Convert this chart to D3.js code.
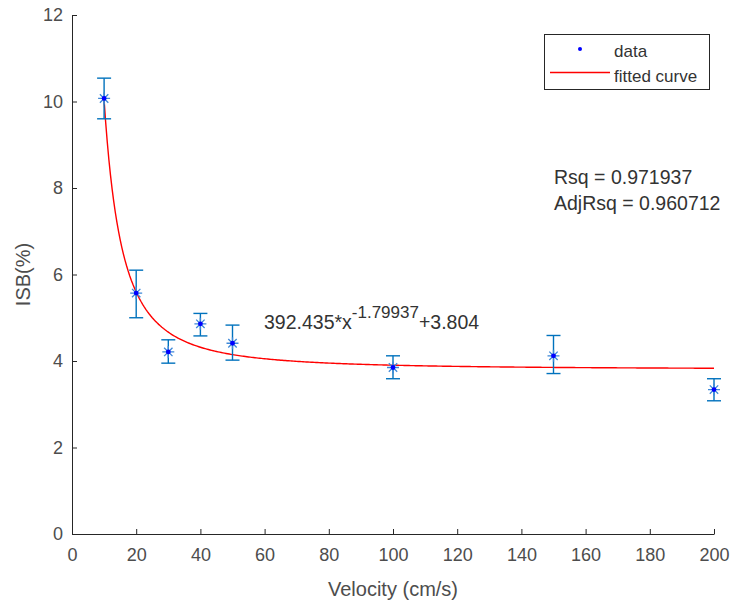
<!DOCTYPE html>
<html>
<head>
<meta charset="utf-8">
<script src="https://cdn.jsdelivr.net/npm/d3@7"></script>
<style>
  body { margin: 0; background: #fff; }
  text { font-family: "Liberation Sans", Arial, sans-serif; }
</style>
</head>
<body>
<script>
var velocity = [10, 20, 30, 40, 50, 100, 150, 200];
var isb      = [10.07, 5.57, 4.21, 4.86, 4.41, 3.85, 4.12, 3.34];
var errUpper = [10.54, 6.10, 4.49, 5.10, 4.83, 4.12, 4.59, 3.59];
var errLower = [9.60, 5.00, 3.95, 4.58, 4.02, 3.59, 3.71, 3.08];

// fit parameters as printed on the chart: a*x^b + c
var fitA = 392.435, fitB = -1.79937, fitC = 3.804;
var rsq = "0.971937", adjRsq = "0.960712";

var xTicks = [0, 20, 40, 60, 80, 100, 120, 140, 160, 180, 200];
var yTicks = [0, 2, 4, 6, 8, 10, 12];

function main() {
  var width = 732, height = 607;
  var margin = {left: 72, right: 18, top: 15, bottom: 73};

  var svg = d3.select("body").append("svg")
    .attr("width", width).attr("height", height);

  var x = d3.scaleLinear().domain([0, 200]).range([margin.left, width - margin.right]);
  var y = d3.scaleLinear().domain([0, 12]).range([height - margin.bottom, margin.top]);

  var axisColor = "#262626";
  var textColor = "#333";

  // x axis, ticks pointing inward
  var gx = svg.append("g")
    .attr("transform", "translate(0," + y(0) + ")")
    .call(d3.axisBottom(x).tickValues(xTicks).tickSizeInner(-5).tickSizeOuter(0).tickPadding(14));
  // y axis
  var gy = svg.append("g")
    .attr("transform", "translate(" + x(0) + ",0)")
    .call(d3.axisLeft(y).tickValues(yTicks).tickSizeInner(-5).tickSizeOuter(0).tickPadding(9));

  [gx, gy].forEach(function (g) {
    g.select(".domain").attr("stroke", axisColor).attr("stroke-width", 1);
    g.selectAll(".tick line").attr("stroke", axisColor);
    g.selectAll(".tick text").attr("fill", "#4d4d4d").style("font-size", "18px")
      .style("font-family", "Liberation Sans, Arial, sans-serif");
  });

  svg.append("text")
    .attr("x", (x(0) + x(200)) / 2).attr("y", 596)
    .attr("text-anchor", "middle").attr("fill", "#4d4d4d")
    .style("font-size", "20px").text("Velocity (cm/s)");

  svg.append("text")
    .attr("transform", "translate(30," + (y(6)) + ") rotate(-90)")
    .attr("text-anchor", "middle").attr("fill", "#4d4d4d")
    .style("font-size", "20px").text("ISB(%)");

  // fitted curve
  var curveX = d3.range(10, 200.5, 0.5);
  var line = d3.line()
    .x(function (d) { return x(d); })
    .y(function (d) { return y(fitA * Math.pow(d, fitB) + fitC); });
  svg.append("path").datum(curveX)
    .attr("d", line).attr("fill", "none")
    .attr("stroke", "#ff0000").attr("stroke-width", 1.4);

  // error bars
  var ebColor = "#0072bd";
  var cap = 7;
  var pts = velocity.map(function (v, i) {
    return {x: v, y: isb[i], hi: errUpper[i], lo: errLower[i]};
  });
  var eb = svg.append("g").selectAll("g").data(pts).enter().append("g")
    .attr("stroke", ebColor).attr("stroke-width", 1.4);
  eb.append("line")
    .attr("x1", function (d) { return x(d.x); }).attr("x2", function (d) { return x(d.x); })
    .attr("y1", function (d) { return y(d.hi); }).attr("y2", function (d) { return y(d.lo); });
  eb.append("line")
    .attr("x1", function (d) { return x(d.x) - cap; }).attr("x2", function (d) { return x(d.x) + cap; })
    .attr("y1", function (d) { return y(d.hi); }).attr("y2", function (d) { return y(d.hi); });
  eb.append("line")
    .attr("x1", function (d) { return x(d.x) - cap; }).attr("x2", function (d) { return x(d.x) + cap; })
    .attr("y1", function (d) { return y(d.lo); }).attr("y2", function (d) { return y(d.lo); });

  // asterisk markers
  var r = 6;
  var star = "M" + (-r) + ",0L" + r + ",0" +
    "M0," + (-r) + "L0," + r +
    "M" + (-r * 0.7) + "," + (-r * 0.7) + "L" + (r * 0.7) + "," + (r * 0.7) +
    "M" + (-r * 0.7) + "," + (r * 0.7) + "L" + (r * 0.7) + "," + (-r * 0.7);
  eb.append("path")
    .attr("d", star)
    .attr("transform", function (d) { return "translate(" + x(d.x) + "," + y(d.y) + ")"; })
    .attr("stroke", "#3d88d8").attr("stroke-width", 1.3).attr("fill", "none");

  // data dots
  svg.append("g").selectAll("circle").data(pts).enter().append("circle")
    .attr("cx", function (d) { return x(d.x); })
    .attr("cy", function (d) { return y(d.y); })
    .attr("r", 2.4).attr("fill", "#0000ff");

  // legend
  var lg = svg.append("g");
  lg.append("rect").attr("x", 544.5).attr("y", 34.5).attr("width", 165).attr("height", 55)
    .attr("fill", "#fff").attr("stroke", axisColor).attr("stroke-width", 1);
  lg.append("circle").attr("cx", 580).attr("cy", 49).attr("r", 2).attr("fill", "#0000ff");
  lg.append("line").attr("x1", 550).attr("x2", 610).attr("y1", 72.5).attr("y2", 72.5)
    .attr("stroke", "#ff0000").attr("stroke-width", 1.4);
  lg.append("text").attr("x", 614).attr("y", 57).style("font-size", "17px").attr("fill", textColor).text("data");
  lg.append("text").attr("x", 614).attr("y", 82).style("font-size", "17px").attr("fill", textColor).text("fitted curve");

  // stats text
  svg.append("text").attr("x", 554).attr("y", 184).style("font-size", "19.5px").attr("fill", textColor)
    .text("Rsq = " + rsq);
  svg.append("text").attr("x", 554).attr("y", 210).style("font-size", "19.5px").attr("fill", textColor)
    .text("AdjRsq = " + adjRsq);

  // equation
  var eq = svg.append("text").attr("x", 264).attr("y", 329).style("font-size", "19.5px").attr("fill", textColor);
  eq.append("tspan").text(fitA + "*x");
  eq.append("tspan").attr("dy", -11).style("font-size", "17px").text(String(fitB));
  eq.append("tspan").attr("dy", 11).text("+" + fitC);
}
main();
</script>
</body>
</html>
